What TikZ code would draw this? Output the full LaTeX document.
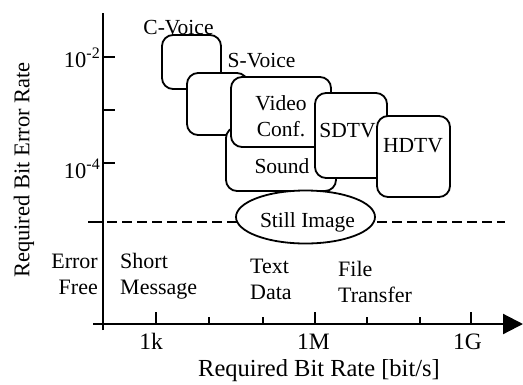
\documentclass[tikz,border=0pt]{standalone}
\usepackage{fontspec}
\setmainfont{Liberation Serif}
\usetikzlibrary{shapes.geometric,arrows.meta}
\tikzset{
  svcbox/.style={draw, fill=white, line width=1.8pt, rounded corners=11pt,
                 inner sep=0pt},
  lbl/.style={inner sep=0pt, anchor=base, font=\fontsize{21.5}{25}\selectfont},
  lowlbl/.style={inner sep=0pt, font=\fontsize{22}{26}\selectfont},
  axlbl/.style={inner sep=0pt, anchor=base, font=\fontsize{23.5}{26}\selectfont},
  axisline/.style={line width=2.2pt},
  tickline/.style={line width=1.6pt},
}
\newcommand{\expo}[1]{\raisebox{9pt}{\fontsize{16}{16}\selectfont #1}}
\begin{document}
\begin{tikzpicture}[x=1pt,y=-1pt]
\useasboundingbox (0,0) rectangle (523,384);

% service regions, back to front
\node[svcbox, minimum width=59, minimum height=54]  (cvoice) at (191.5,62) {};
\node[svcbox, minimum width=61, minimum height=62]  (svoice) at (217.5,104) {};
\node[svcbox, minimum width=110, minimum height=64] (sound)  at (281,159) {};
\node[svcbox, minimum width=100, minimum height=70] (video)  at (281,112) {};
\node[svcbox, minimum width=72, minimum height=85]  (sdtv)   at (351,135.5) {};
\node[svcbox, minimum width=73, minimum height=81]  (hdtv)   at (413.5,156.5) {};

% region labels
\node[lbl] (cvoicet) at (178.5,34) {C-Voice};
\node[lbl] (svoicet) at (261.5,67) {S-Voice};
\node[lbl] (videot)  at (281,110) {Video};
\node[lbl] (conft)   at (281,136) {Conf.};
\node[lbl] (soundt)  at (282,173) {Sound};
\node[lbl] (sdtvt)   at (347.5,137) {SDTV};
\node[lbl] (hdtvt)   at (413,152) {HDTV};

% axes
\coordinate (ytop) at (103,13);
\coordinate (ybot) at (103,330);
\coordinate (xl)   at (93,324);
\coordinate (xr)   at (523,324);
\draw[axisline] (ybot) -- (ytop);
\draw[axisline, -{Triangle[length=20pt,width=20pt]}] (xl) -- (xr);

% error-free threshold
\coordinate (thl) at (88,222);
\coordinate (tha) at (103,222);
\coordinate (thr) at (505,222);
\draw[tickline] (thl) -- (tha);
\draw[line width=1.6pt, dash pattern=on 10pt off 5pt] (tha) ++(4,0) -- (thr);
\node[draw, fill=white, line width=1.8pt, ellipse, inner sep=0pt,
      minimum width=139, minimum height=53] (still) at (305.5,217) {};
\node[lbl] (stillt) at (307.5,227) {Still Image};

% y ticks
\foreach \yy in {57,110,163} \draw[tickline] (103,\yy) -- (115,\yy);
\node[axlbl, anchor=base east, font=\fontsize{22.5}{26}\selectfont] (em2) at (100,67)  {10\expo{-2}};
\node[axlbl, anchor=base east, font=\fontsize{22.5}{26}\selectfont] (em4) at (100,178) {10\expo{-4}};

% x ticks
\foreach \xx in {156,315,471} \draw[tickline] (\xx,324) -- (\xx,312);
\foreach \xx in {209,263,367,420} \draw[tickline] (\xx,324) -- (\xx,317);
\node[axlbl] (k)  at (151,349) {1k};
\node[axlbl] (M)  at (313.5,349) {1M};
\node[axlbl] (G)  at (467.5,349) {1G};

% axis titles
\node[axlbl, font=\fontsize{24.5}{28}\selectfont] (xtitle) at (319,376) {Required Bit Rate [bit/s]};
\node[axlbl, anchor=center, rotate=90, font=\fontsize{22.5}{26}\selectfont] (ytitle) at (24,170) {Required Bit Error Rate};

% error-free services
\node[lowlbl, anchor=base east] (err)  at (98,268) {Error};
\node[lowlbl, anchor=base east] (free) at (98,294) {Free};
\node[lowlbl, anchor=base west] (short) at (120,268) {Short};
\node[lowlbl, anchor=base west] (msg)   at (120,294) {Message};
\node[lowlbl, anchor=base west] (text)  at (250,273) {Text};
\node[lowlbl, anchor=base west] (data)  at (250,299) {Data};
\node[lowlbl, anchor=base west] (file)  at (338,276) {File};
\node[lowlbl, anchor=base west] (trans) at (338,302) {Transfer};
\end{tikzpicture}
\end{document}
